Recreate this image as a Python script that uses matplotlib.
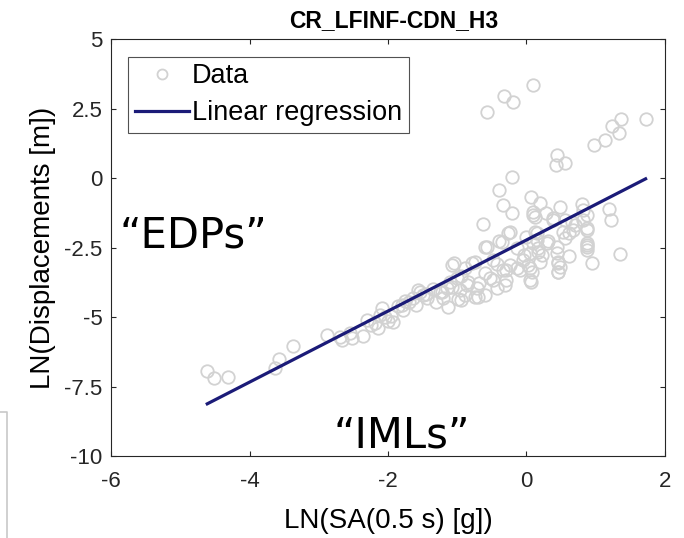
"""
Fragility-style regression plot: LN(EDP) vs LN(IML)
"""
import matplotlib
matplotlib.use('Agg')
import matplotlib.pyplot as plt
from matplotlib.lines import Line2D
import numpy as np

plt.rcParams['font.family'] = ['Liberation Sans', 'DejaVu Sans']
plt.rcParams['axes.unicode_minus'] = False

# data points (LN of SA and displacement)
ln_sa = [
    -4.61, -4.51, -4.31, -3.63, -3.58, -3.37, -2.88, -2.67, -2.70, -2.55,
    -2.52, -2.36, -2.31, -2.19, -2.12, -2.25, -2.05, -2.00, -2.15, -1.95,
    -2.08, -1.93, -1.80, -1.79, -1.69, -1.64, -1.57, -1.54, -1.50, -1.43,
    -1.25, -1.22, -1.14, -1.11, -1.08, -1.07, -1.04, -0.99, -0.96, -0.94,
    -0.89, -0.89, -0.86, -0.85, -0.78, -0.75, -0.75, -0.72, -0.70, -0.68,
    -0.63, -0.60, -0.60, -0.60, -0.57, -0.57, -0.53, -0.49, -0.49, -0.43,
    -0.43, -0.40, -0.39, -0.36, -0.34, -0.34, -0.33, -0.31, -0.29, -0.29,
    -0.26, -0.24, -0.21, -0.21, -0.19, -0.14, -0.14, -0.10, -0.05, -0.03,
    0.02, 0.05, 0.05, 0.05, 0.06, 0.07, 0.08, 0.09, 0.09, 0.09,
    0.15, 0.16, 0.16, 0.19, 0.19, 0.23, 0.28, 0.31, 0.39, 0.42,
    0.44, 0.44, 0.44, 0.45, 0.46, 0.48, 0.45, 0.45, 0.48, 0.55,
    0.55, 0.55, 0.62, 0.62, 0.70, 0.80, 0.81, 0.81, 0.87, 0.87,
    0.87, 0.88, 0.88, 0.94, 0.97, 1.14, 1.19, 1.22, 1.23, 1.33,
    1.35, 1.37, 1.73, 0.13, 0.38, 0.09, -0.24, 0.00, 0.12, 0.65,
    0.67, 0.87, 0.52, 0.87, 0.15, 0.29, -1.85, -1.75, -1.60, -1.45,
    -1.35, -1.30, -1.20, -1.15, -1.00, -0.95,
]
ln_disp = [
    -6.94, -7.19, -7.15, -6.83, -6.51, -6.04, -5.64, -5.82, -5.71, -5.57,
    -5.75, -5.68, -5.10, -5.21, -4.92, -5.30, -5.00, -5.15, -5.40, -4.95,
    -4.67, -5.17, -4.56, -4.74, -4.45, -4.31, -4.02, -4.09, -4.20, -4.31,
    -4.09, -4.09, -4.63, -3.73, -3.91, -3.12, -3.05, -4.35, -4.02, -4.38,
    -3.23, -4.20, -3.84, -3.73, -3.05, -3.01, -4.27, -3.95, -4.27, -3.77,
    -1.64, -2.47, -3.41, -4.20, 2.39, -2.47, -3.59, -2.94, -3.66, -3.08,
    -3.95, -0.42, -2.26, -2.29, -0.96, -3.30, 2.97, -3.84, -3.30, -3.66,
    -1.97, -3.12, -1.25, 0.05, 2.75, -2.51, -3.23, -3.30, -2.94, -2.76,
    -3.12, -2.69, -3.23, -3.66, -0.67, -3.73, -3.37, 3.36, -1.21, -2.33,
    -1.97, -2.51, -2.65, -0.89, -3.01, -2.76, -1.25, -2.26, -1.43, 0.48,
    0.84, -2.69, -2.47, -3.05, -3.37, -3.19, -3.37, -3.01, -1.03, 0.55,
    -1.50, -2.15, -1.97, -2.80, -1.68, -0.92, -1.14, -1.50, -1.79, -2.40,
    -2.47, -1.32, -2.58, -3.05, 1.20, 1.38, -1.10, -1.50, 1.88, 1.63,
    -2.72, 2.14, 2.14, -1.39, -1.50, -1.32, -1.93, -2.11, -1.93, -1.57,
    -1.86, -1.86, -1.93, -2.33, -2.22, -2.33, -4.60, -4.40, -4.55, -4.15,
    -4.00, -4.45, -4.30, -3.95, -3.60, -3.50,
]

# regression line
reg_slope = 1.28
reg_intercept = -2.22
reg_x = [-4.61, 1.72]

xticks = [-6, -4, -2, 0, 2]
yticks = [-10, -7.5, -5, -2.5, 0, 2.5, 5]
ytick_labels = ['-10', '-7.5', '-5', '-2.5', '0', '2.5', '5']

fig = plt.figure(figsize=(6.84, 5.38), dpi=100)
ax = fig.add_axes([0.1623, 0.1524, 0.8099, 0.7742])

ax.plot(ln_sa, ln_disp, 'o', mfc='none', mec='#d2d2d2', ms=9, mew=1.3,
        label='Data')
reg_y = reg_slope * np.array(reg_x) + reg_intercept
ax.plot(reg_x, reg_y, '-', color='#1b1b78', lw=2.3, label='Linear regression')

ax.set_xlim(-6, 2)
ax.set_ylim(-10, 5)
ax.set_xticks(xticks)
ax.set_yticks(yticks)
ax.set_yticklabels(ytick_labels)
ax.tick_params(direction='in', length=3.5, width=0.8, top=True, right=True,
               labelsize=16, colors='#262626')
ax.tick_params(axis='y', pad=6)
ax.tick_params(axis='x', pad=11)
for s in ax.spines.values():
    s.set_color('#262626')
    s.set_linewidth(0.8)

ax.set_xlabel('LN(SA(0.5 s) [g])', fontsize=20, labelpad=11)
ax.set_ylabel('LN(Displacements [m])', fontsize=20, labelpad=6)

fig.text(0.575, 0.961, 'CR_LFINF-CDN_H3', fontsize=16.5, fontweight='bold',
         ha='center', va='center')

leg = ax.legend(loc='upper left', fontsize=19.5, frameon=True, fancybox=False,
                edgecolor='#262626', handlelength=2.0, handletextpad=0.1,
                labelspacing=0.4, borderpad=0.25, borderaxespad=0.63,
                markerscale=0.8)
leg.get_frame().set_linewidth(0.8)

# annotations
fig.text(0.282, 0.563, '\u201cEDPs\u201d', fontsize=30, family='DejaVu Sans',
         ha='center', va='center')
fig.text(0.588, 0.191, '\u201cIMLs\u201d', fontsize=30, family='DejaVu Sans',
         ha='center', va='center')

# edge of a neighbouring panel at the bottom-left
fig.add_artist(Line2D([0, 0.0102, 0.0102], [0.234, 0.234, 0],
                      transform=fig.transFigure, color='#c8c8c8', lw=1.2))

plt.savefig('out.png', dpi=100)
